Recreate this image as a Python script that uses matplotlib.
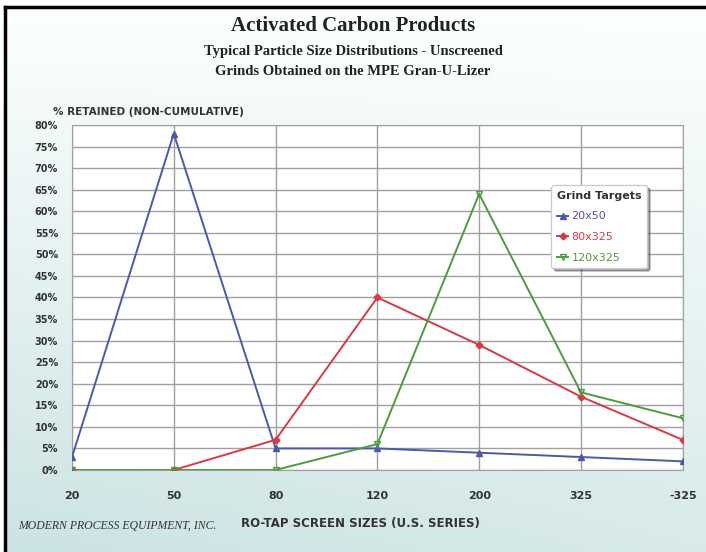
import numpy as np
import matplotlib
matplotlib.use("Agg")
import matplotlib.pyplot as plt
from matplotlib.lines import Line2D

sizes = ["20", "50", "80", "120", "200", "325", "-325"]
g20x50 = [3, 78, 5, 5, 4, 3, 2]
g80x325 = [0, 0, 7, 40, 29, 17, 7]
g120x325 = [0, 0, 0, 6, 64, 18, 12]
yticks = list(range(0, 85, 5))

fig = plt.figure(figsize=(7.06, 5.52), dpi=100)
fig.patch.set_facecolor("white")

# background gradient
bg = fig.add_axes([0, 0, 1, 1], zorder=0)
ny, nx = 200, 200
yy, xx = np.mgrid[0:1:ny*1j, 0:1:nx*1j]
t = np.clip(0.75 * yy + 0.25 * (1 - xx) * yy, 0, 1)
top = np.array([0.99, 1.0, 1.0])
bot = np.array([0.80, 0.89, 0.89])
img = top[None, None, :] * (1 - t[..., None]) + bot[None, None, :] * t[..., None]
bg.imshow(img, extent=[0.007, 1, 0, 0.988], origin="upper", aspect="auto")
bg.set_xlim(0, 1); bg.set_ylim(0, 1)
bg.add_line(Line2D([0.007, 0.007], [0, 0.988], color="black", lw=2.5))
bg.add_line(Line2D([0.007, 1], [0.988, 0.988], color="black", lw=2.5))
bg.axis("off")

ax = fig.add_axes([0.102, 0.1486, 0.865, 0.625], zorder=1)
ax.set_facecolor("white")
x = np.arange(len(sizes))
ax.plot(x, g20x50, color="#4a5aa8", lw=1.4, marker="^", ms=4, label="20x50", zorder=3)
ax.plot(x, g80x325, color="#d83a44", lw=1.4, marker="D", ms=3.5, label="80x325", zorder=3)
ax.plot(x, g120x325, color="#4c9c3c", lw=1.4, marker="v", ms=4, mfc="none", label="120x325", zorder=3)

ax.set_xlim(0, len(sizes) - 1)
ax.set_ylim(0, 80)
ax.set_xticks(x)
ax.set_xticklabels(sizes, fontsize=8, fontweight="bold", color="#333333")
ax.set_yticks(yticks)
ax.set_yticklabels([f"{v}%" for v in yticks], fontsize=7, fontweight="bold", color="#333333")
ax.tick_params(axis="x", length=0, pad=15)
ax.tick_params(axis="y", length=0, pad=10)
ax.grid(True, color="#a0a0a0", lw=1.0)
ax.set_axisbelow(True)
for s in ax.spines.values():
    s.set_color("#a0a0a0")

leg = ax.legend(title="Grind Targets", loc="upper left", bbox_to_anchor=(0.785, 0.825),
                fontsize=8, title_fontproperties={"size": 8, "weight": "bold"},
                frameon=True, fancybox=True, shadow=True, handlelength=1.0,
                handletextpad=0.3, borderpad=0.5, labelspacing=0.95, borderaxespad=0)
leg.get_frame().set_edgecolor("#cccccc")
leg._legend_box.align = "left"
for txt, c in zip(leg.get_texts(), ["#5a4ab0", "#d83a44", "#4c9c3c"]):
    txt.set_color(c)
leg.get_title().set_color("#333333")

fig.text(0.5, 0.952, "Activated Carbon Products", ha="center", va="center",
         fontsize=15, fontweight="bold", family="Liberation Serif", color="#222222")
fig.text(0.5, 0.907, "Typical Particle Size Distributions - Unscreened", ha="center", va="center",
         fontsize=10.5, fontweight="bold", family="Liberation Serif", color="#222222")
fig.text(0.5, 0.870, "Grinds Obtained on the MPE Gran-U-Lizer", ha="center", va="center",
         fontsize=10.5, fontweight="bold", family="Liberation Serif", color="#222222")
fig.text(0.075, 0.797, "% RETAINED (NON-CUMULATIVE)", ha="left", va="center",
         fontsize=7.5, fontweight="bold", color="#333333")
fig.text(0.342, 0.052, "RO-TAP SCREEN SIZES (U.S. SERIES)", ha="left", va="center",
         fontsize=8.5, fontweight="bold", color="#333333")
fig.text(0.026, 0.048, "MODERN PROCESS EQUIPMENT, INC.", ha="left", va="center",
         fontsize=8.5, style="italic", family="Liberation Serif", color="#333333")

fig.savefig("out.png", dpi=100)
